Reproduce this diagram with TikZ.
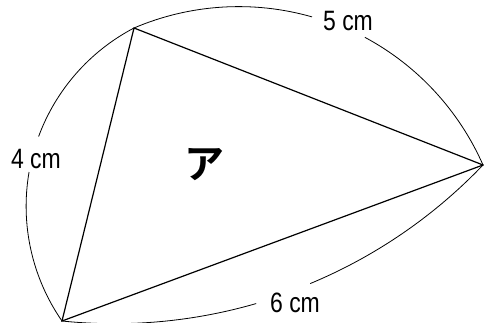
\documentclass[tikz,border=0pt]{standalone}
\usepackage{fontspec}
\setmainfont{Liberation Sans}[FakeStretch=0.82]
\newfontfamily\jpfont{Noto Sans CJK JP}[BoldFont={* Bold}]
\begin{document}
\begin{tikzpicture}[x=1pt,y=-1pt,
  side/.style={line width=1.2pt,line join=miter},
  arcline/.style={line width=0.8pt},
  lbl/.style={font=\fontsize{28}{28}\selectfont,inner sep=0pt},
  kana/.style={font=\jpfont\bfseries\fontsize{40}{40}\selectfont,inner sep=0pt}]
\useasboundingbox (0,0) rectangle (484,323);
\coordinate (A) at (134,28);
\coordinate (B) at (483,165);
\coordinate (C) at (62,321);
\draw[side] (A) -- (B) -- (C) -- cycle;
% top arc (5 cm)
\draw[arcline] (A) arc[start angle=-113.1,end angle=-74.05,radius=266.8];
\draw[arcline] (B) arc[start angle=-23.75,end angle=-61.8,radius=266.8];
% left arc (4 cm)
\draw[arcline] (C) arc[start angle=145.26,end angle=189.8,radius=201.3];
\draw[arcline] (A) arc[start angle=242.35,end angle=200.3,radius=201.3];
% bottom arc (6 cm)
\draw[arcline] (B) arc[start angle=43.68,end angle=67.4,radius=509.8];
\draw[arcline] (C) arc[start angle=95.89,end angle=73.84,radius=509.8];
\node[lbl] (l5) at (348,21) {5 cm};
\node[lbl] (l4) at (36,159) {4 cm};
\node[lbl] (l6) at (295,303) {6 cm};
\node[kana] (k) at (204,165) {ア};
\end{tikzpicture}
\end{document}
